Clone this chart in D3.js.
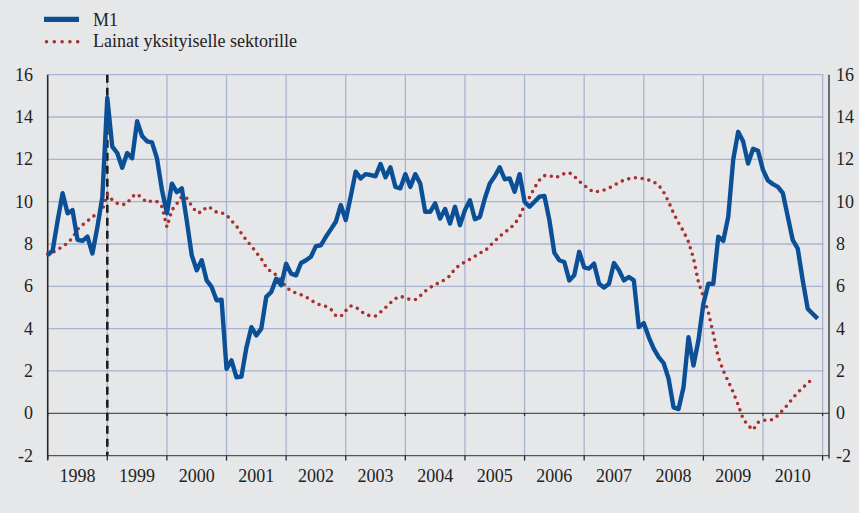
<!DOCTYPE html>
<html>
<head>
<meta charset="utf-8">
<script src="https://cdn.jsdelivr.net/npm/d3@7"></script>
<style>
  html, body { margin: 0; padding: 0; background: #e6e7e9; }
  svg { display: block; font-family: "Liberation Serif", "Times New Roman", serif; }
</style>
</head>
<body>
<svg id="chart" width="859" height="513"></svg>
<script>
// monthly values, Jan 1998 .. Dec 2010 (M1) and Jan 1998 .. Nov 2010 (loans)
var years = ['1998', '1999', '2000', '2001', '2002', '2003', '2004', '2005', '2006', '2007', '2008', '2009', '2010'];
var yTicks = [-2, 0, 2, 4, 6, 8, 10, 12, 14, 16];

var m1 = [
    7.47, 7.7, 9.1, 10.4, 9.45, 9.6, 8.2, 8.15, 8.35, 7.55, 8.8, 10.2,
    14.9, 12.6, 12.3, 11.6, 12.3, 12.05, 13.8, 13.1, 12.85, 12.8, 12.05, 10.55,
    9.45, 10.85, 10.45, 10.63, 9.1, 7.47, 6.76, 7.23, 6.28, 5.97, 5.34, 5.37,
    2.1, 2.5, 1.7, 1.73, 3.1, 4.07, 3.68, 4.0, 5.5, 5.73, 6.36, 6.05,
    7.07, 6.6, 6.52, 7.1, 7.23, 7.4, 7.9, 7.94, 8.34, 8.69, 9.05, 9.84,
    9.13, 10.24, 11.42, 11.1, 11.3, 11.26, 11.2, 11.78, 11.15, 11.62, 10.7, 10.63,
    11.3, 10.7, 11.3, 10.86, 9.52, 9.52, 9.92, 9.2, 9.65, 8.97, 9.76, 8.89,
    9.6, 10.07, 9.17, 9.28, 10.15, 10.86, 11.2, 11.62, 11.06, 11.1, 10.47, 11.3,
    10.0, 9.76, 10.0, 10.24, 10.27, 9.13, 7.58, 7.23, 7.15, 6.28, 6.52, 7.63,
    6.9, 6.84, 7.07, 6.12, 5.94, 6.12, 7.1, 6.76, 6.28, 6.44, 6.28, 4.07,
    4.26, 3.6, 3.05, 2.65, 2.37, 1.63, 0.28, 0.2, 1.23, 3.6, 2.26, 3.44,
    5.18, 6.12, 6.12, 8.34, 8.15, 9.28, 11.97, 13.3, 12.85, 11.8, 12.5, 12.4,
    11.5, 11.0, 10.83, 10.7, 10.4, 9.28, 8.18, 7.78, 6.28, 4.94, 4.7, 4.47
];

var loans = [
    7.52, 7.6, 7.74, 7.86, 8.05, 8.29, 8.69, 8.9, 9.08, 9.29, 9.41, 9.6,
    10.36, 10.08, 9.92, 9.85, 9.92, 10.24, 10.36, 10.16, 9.97, 10.05, 10.0, 9.76,
    8.8, 9.6, 9.9, 10.25, 10.16, 9.8, 9.48, 9.5, 9.76, 9.68, 9.5, 9.48,
    9.37, 9.1, 8.85, 8.5, 8.18, 7.9, 7.6, 7.3, 6.9, 6.67, 6.54, 6.28,
    5.96, 5.78, 5.68, 5.6, 5.5, 5.34, 5.21, 5.1, 5.05, 4.92, 4.62, 4.57,
    4.85, 5.07, 5.02, 4.83, 4.67, 4.6, 4.6, 4.78, 4.99, 5.22, 5.42, 5.53,
    5.45, 5.37, 5.37, 5.55, 5.77, 5.94, 6.09, 6.18, 6.33, 6.5, 6.83, 7.01,
    7.15, 7.28, 7.42, 7.58, 7.66, 7.91, 8.13, 8.37, 8.54, 8.73, 8.94, 9.29,
    9.84, 10.2, 10.66, 11.02, 11.23, 11.24, 11.13, 11.2, 11.33, 11.37, 11.2, 10.96,
    10.78, 10.58, 10.45, 10.49, 10.55, 10.64, 10.78, 10.9, 11.02, 11.08, 11.13, 11.13,
    11.08, 11.02, 10.93, 10.78, 10.45, 10.0, 9.45, 9.0, 8.6, 8.1, 7.33, 6.2,
    5.51, 4.78, 3.75, 2.65, 2.02, 1.51, 1.0, 0.39, -0.27, -0.57, -0.79, -0.43,
    -0.33, -0.32, -0.3, -0.1, 0.16, 0.41, 0.72, 0.98, 1.2, 1.43, 1.62
];

var seriesNames = ['M1', 'Lainat yksityiselle sektorille'];

var blue = '#0b4f96',
    red = '#a8302e',
    gridColor = '#a9b4d2',
    axisColor = '#2a2a2a';

var svg = d3.select('#chart');

var x = d3.scaleLinear().domain([0, years.length * 12]).range([47.7, 822.6]);
var y = d3.scaleLinear().domain([-2, 16]).range([455.6, 74.7]);
var left = 47.7, right = 829;

// horizontal grid
svg.append('g').selectAll('line')
    .data(yTicks.filter(function (d) { return d !== 0 && d !== -2; }))
    .enter().append('line')
        .attr('x1', left).attr('x2', x.range()[1] + 1)
        .attr('y1', function (d) { return y(d); })
        .attr('y2', function (d) { return y(d); })
        .attr('stroke', gridColor)
        .attr('stroke-width', 1.3);

// vertical grid at year boundaries
svg.append('g').selectAll('line')
    .data(d3.range(1, years.length + 1))
    .enter().append('line')
        .attr('x1', function (d) { return x(d * 12); })
        .attr('x2', function (d) { return x(d * 12); })
        .attr('y1', y(16)).attr('y2', y(-2))
        .attr('stroke', gridColor)
        .attr('stroke-width', 1.3);

// zero line
svg.append('line')
    .attr('x1', left).attr('x2', right)
    .attr('y1', y(0)).attr('y2', y(0))
    .attr('stroke', '#555').attr('stroke-width', 1.3);

svg.append('g').selectAll('line')
    .data(d3.range(0, years.length + 1))
    .enter().append('line')
        .attr('x1', function (d) { return x(d * 12); })
        .attr('x2', function (d) { return x(d * 12); })
        .attr('y1', y(0)).attr('y2', y(0) + 2.5)
        .attr('stroke', axisColor).attr('stroke-width', 1.3);

// bottom axis with year ticks
svg.append('line')
    .attr('x1', left).attr('x2', right)
    .attr('y1', y(-2)).attr('y2', y(-2))
    .attr('stroke', '#555').attr('stroke-width', 1.3);

svg.append('g').selectAll('line')
    .data(d3.range(0, years.length + 1))
    .enter().append('line')
        .attr('x1', function (d) { return x(d * 12); })
        .attr('x2', function (d) { return x(d * 12); })
        .attr('y1', y(-2)).attr('y2', y(-2) + 5)
        .attr('stroke', axisColor).attr('stroke-width', 1.3);

svg.append('g').selectAll('text')
    .data(years)
    .enter().append('text')
        .attr('x', function (d, i) { return x(i * 12 + 6); })
        .attr('y', 482)
        .attr('text-anchor', 'middle')
        .attr('font-size', 18)
        .attr('fill', '#222')
        .text(function (d) { return d; });

// left and right axes
svg.append('line')
    .attr('x1', left).attr('x2', left)
    .attr('y1', y(16)).attr('y2', y(-2) + 4)
    .attr('stroke', axisColor).attr('stroke-width', 1.6);

svg.append('line')
    .attr('x1', right).attr('x2', right)
    .attr('y1', y(16)).attr('y2', y(-2) + 3)
    .attr('stroke', axisColor).attr('stroke-width', 1.3);

svg.append('g').selectAll('text')
    .data(yTicks)
    .enter().append('text')
        .attr('x', 33)
        .attr('y', function (d) { return y(d) + 6; })
        .attr('text-anchor', 'end')
        .attr('font-size', 18)
        .attr('fill', '#222')
        .text(function (d) { return d; });

svg.append('g').selectAll('text')
    .data(yTicks)
    .enter().append('text')
        .attr('x', 836)
        .attr('y', function (d) { return y(d) + 6; })
        .attr('text-anchor', 'start')
        .attr('font-size', 18)
        .attr('fill', '#222')
        .text(function (d) { return d; });

// dashed marker at the start of 1999
svg.append('line')
    .attr('x1', x(12)).attr('x2', x(12))
    .attr('y1', y(16)).attr('y2', y(-2))
    .attr('stroke', '#1e1e1e')
    .attr('stroke-width', 2.6)
    .attr('stroke-dasharray', '8,5');

// series
var line = d3.line()
    .x(function (d, i) { return x(i); })
    .y(function (d) { return y(d); });

svg.append('path')
    .datum(loans)
    .attr('d', line)
    .attr('fill', 'none')
    .attr('stroke', red)
    .attr('stroke-width', 3.6)
    .attr('stroke-linecap', 'round')
    .attr('stroke-dasharray', '0,6.8');

svg.append('path')
    .datum(m1)
    .attr('d', line)
    .attr('fill', 'none')
    .attr('stroke', blue)
    .attr('stroke-width', 4.4)
    .attr('stroke-linejoin', 'round');

// legend
var legend = svg.append('g');

legend.append('line')
    .attr('x1', 44).attr('x2', 79)
    .attr('y1', 19.3).attr('y2', 19.3)
    .attr('stroke', blue).attr('stroke-width', 5.3);

legend.append('line')
    .attr('x1', 46.5).attr('x2', 78)
    .attr('y1', 41.7).attr('y2', 41.7)
    .attr('stroke', red).attr('stroke-width', 3.6)
    .attr('stroke-linecap', 'round')
    .attr('stroke-dasharray', '0,7.8');

legend.selectAll('text')
    .data(seriesNames)
    .enter().append('text')
        .attr('x', 93)
        .attr('y', function (d, i) { return 25.5 + i * 21.5; })
        .attr('font-size', 18)
        .attr('fill', '#222')
        .text(function (d) { return d; });
</script>
</body>
</html>
